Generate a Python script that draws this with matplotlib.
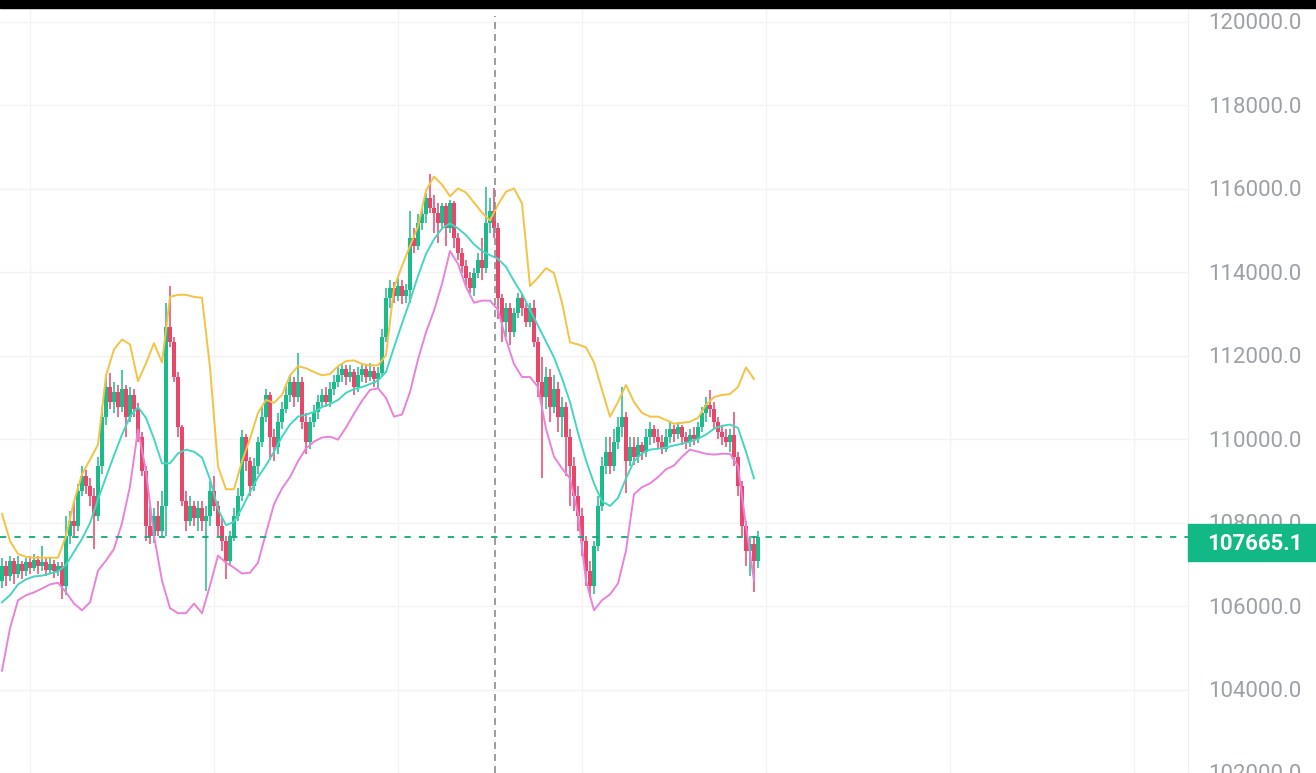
import numpy as np
import matplotlib.pyplot as plt
from matplotlib.patches import Rectangle

plt.rcParams['font.family'] = ['Roboto', 'DejaVu Sans']

# OHLC candles (oldest -> newest)
opens = [
    106610, 106970, 106730, 107090, 106780, 107020, 106850, 107060, 106920, 107110,
    106970, 107060, 106870, 107020, 106830, 106970, 106490, 107680, 108040, 107920,
    108750, 109110, 108870, 108630, 108160, 109350, 110540, 111250, 110890, 111130,
    110770, 111200, 110540, 111060, 110730, 110060, 109230, 107920, 107680, 108160,
    107800, 108400, 112680, 112320, 111490, 110300, 108510, 108040, 108400, 108110,
    108350, 108040, 108160, 108750, 108400, 107920, 107560, 107090, 107680, 108160,
    108630, 110060, 109470, 108870, 109350, 109940, 110540, 111060, 110060, 109820,
    110420, 110730, 111060, 111370, 111010, 111370, 110420, 109940, 110420, 110650,
    110890, 111060, 110890, 111200, 111370, 111530, 111680, 111490, 111610, 111250,
    111530, 111680, 111490, 111630, 111440, 111580, 112440, 113390, 113630, 113440,
    113670, 113440, 113580, 114820, 114630, 115170, 115390, 115770, 115530, 115410,
    115170, 115580, 115050, 115650, 114820, 114460, 114150, 113870, 113630, 113980,
    114290, 114100, 115170, 115480, 115050, 113390, 112800, 113150, 112560, 113030,
    113390, 113150, 112800, 113150, 112320, 111370, 111010, 111490, 110770, 111200,
    110540, 110770, 110060, 109350, 108630, 108160, 107560, 106850, 106490, 107440,
    108400, 109350, 109700, 109350, 109940, 110300, 110540, 109470, 109820, 109580,
    109870, 109700, 110060, 110250, 110060, 109940, 109770, 110060, 110250, 110130,
    110300, 110060, 109940, 110110, 110010, 110300, 110630, 110820, 110730, 110420,
    110180, 110060, 109940, 110110, 109580, 108870, 107920, 107330, 107490, 107090,
]
highs = [
    107160, 107090, 107210, 107160, 107210, 107090, 107160, 107210, 107250, 107210,
    107440, 107160, 107160, 107110, 107060, 107060, 108160, 108280, 108510, 108920,
    109350, 109250, 109060, 108820, 109580, 110770, 111490, 111580, 111370, 111300,
    111650, 111300, 111250, 111200, 110870, 110180, 109350, 108400, 108350, 108510,
    108750, 113270, 113680, 112440, 111610, 110350, 108750, 108630, 108510, 108510,
    108510, 108400, 108990, 109110, 108510, 108110, 107680, 107800, 108350, 108820,
    110230, 110130, 109580, 109540, 110060, 110770, 111200, 111130, 110250, 110630,
    110890, 111300, 111530, 111490, 112060, 111490, 110630, 110540, 110820, 111060,
    111200, 111250, 111370, 111530, 111720, 111820, 111770, 111770, 111680, 111720,
    111820, 111770, 111820, 111720, 111720, 112630, 113630, 113820, 113770, 113870,
    113820, 113720, 115480, 115050, 115390, 115530, 115890, 116360, 115860, 115650,
    115670, 115650, 115720, 115700, 114940, 114580, 114290, 114010, 114100, 114460,
    114820, 116050, 115770, 116010, 115170, 113480, 113270, 113270, 113150, 113510,
    113480, 113270, 113270, 113340, 112440, 111960, 111720, 111680, 111530, 111370,
    111010, 110890, 110250, 109580, 108870, 108350, 107680, 107090, 107560, 108630,
    109580, 110060, 110060, 110250, 110540, 111250, 110650, 110060, 110060, 110060,
    109940, 110250, 110420, 110350, 110250, 110110, 110250, 110420, 110350, 110420,
    110350, 110180, 110250, 110300, 110420, 110770, 111010, 111180, 110890, 110540,
    110350, 110250, 110250, 110650, 109700, 108990, 108040, 107680, 107680, 107800,
]
lows = [
    106440, 106490, 106610, 106540, 106680, 106640, 106730, 106780, 106830, 106780,
    106850, 106730, 106780, 106680, 106730, 106180, 106260, 107490, 107680, 107800,
    108630, 108680, 108400, 107370, 108040, 109160, 110350, 110730, 110630, 110540,
    110650, 110060, 110420, 110540, 109940, 109110, 107560, 107490, 107510, 107680,
    107680, 107680, 112200, 111370, 110060, 108400, 107800, 107920, 107920, 107800,
    107800, 106370, 107920, 108280, 107680, 107330, 106660, 106970, 107560, 108040,
    108510, 109230, 108630, 108750, 109160, 109820, 110420, 109510, 109470, 109650,
    110250, 110630, 110890, 110770, 110890, 110250, 109650, 109770, 110300, 110490,
    110770, 110770, 110770, 111060, 111250, 111370, 111300, 111370, 111060, 111130,
    111370, 111340, 111390, 111250, 111200, 111490, 112320, 113150, 113270, 113320,
    113250, 113270, 113270, 114460, 114530, 115010, 115170, 115410, 114940, 114700,
    115050, 114630, 114940, 114580, 114290, 113980, 113680, 113510, 113440, 113870,
    113820, 113980, 114940, 114820, 112870, 112320, 112440, 112250, 112440, 112910,
    112960, 112680, 112680, 112200, 111010, 109060, 110730, 110420, 110630, 110180,
    110060, 109110, 108400, 108280, 107800, 107210, 106490, 106210, 106300, 107330,
    108280, 109160, 109160, 109230, 109770, 110060, 108700, 109350, 109390, 109440,
    109510, 109580, 109870, 109920, 109770, 109650, 109700, 109920, 109940, 110010,
    109870, 109770, 109820, 109870, 109920, 110180, 110420, 110540, 110250, 110010,
    109870, 109820, 109700, 109350, 108630, 107680, 106970, 106730, 106330, 106920,
]
closes = [
    106970, 106730, 107090, 106780, 107020, 106850, 107060, 106920, 107110, 106970,
    107060, 106870, 107020, 106830, 106970, 106490, 107680, 108040, 107920, 108750,
    109110, 108870, 108630, 108160, 109350, 110540, 111250, 110890, 111130, 110770,
    111200, 110540, 111060, 110730, 110060, 109230, 107920, 107680, 108160, 107800,
    108400, 112680, 112320, 111490, 110300, 108510, 108040, 108400, 108110, 108350,
    108040, 108160, 108750, 108400, 107920, 107560, 107090, 107680, 108160, 108630,
    110060, 109470, 108870, 109350, 109940, 110540, 111060, 110060, 109820, 110420,
    110730, 111060, 111370, 111010, 111370, 110420, 109940, 110420, 110650, 110890,
    111060, 110890, 111200, 111370, 111530, 111680, 111490, 111610, 111250, 111530,
    111680, 111490, 111630, 111440, 111580, 112440, 113390, 113630, 113440, 113670,
    113440, 113580, 114820, 114630, 115170, 115390, 115770, 115530, 115410, 115170,
    115580, 115050, 115650, 114820, 114460, 114150, 113870, 113630, 113980, 114290,
    114100, 115170, 115480, 115050, 113390, 112800, 113150, 112560, 113030, 113390,
    113150, 112800, 113150, 112320, 111370, 111010, 111490, 110770, 111200, 110540,
    110770, 110060, 109350, 108630, 108160, 107560, 106850, 106490, 107440, 108400,
    109350, 109700, 109350, 109940, 110300, 110540, 109470, 109820, 109580, 109870,
    109700, 110060, 110250, 110060, 109940, 109770, 110060, 110250, 110130, 110300,
    110060, 109940, 110110, 110010, 110300, 110630, 110820, 110730, 110420, 110180,
    110060, 109940, 110110, 109580, 108870, 107920, 107330, 107490, 107090, 107665.1,
]

# Bollinger bands, read every 2nd candle
band_step = 2
upper_band = [
    108210, 107560, 107250, 107180, 107160, 107160, 107160, 107160, 107680, 108510,
    109160, 109510, 109870, 111530, 112150, 112390, 112270, 111390, 111820, 112300,
    111840, 113410, 113460, 113460, 113410, 113390, 111720, 109350, 108800, 108800,
    109470, 110010, 110630, 110940, 110870, 111060, 111530, 111750, 111700, 111610,
    111530, 111560, 111750, 111870, 111890, 111800, 111770, 111770, 112010, 113630,
    114150, 114630, 115100, 115960, 116290, 116100, 115820, 116010, 115910, 115670,
    115430, 115240, 115620, 115930, 116010, 115650, 113670, 113870, 114100, 113980,
    113270, 112320, 112270, 112200, 111840, 111180, 110540, 110890, 111300, 110890,
    110630, 110540, 110540, 110460, 110370, 110390, 110420, 110510, 110820, 111010,
    111060, 111080, 111250, 111720, 111440,
]
middle_band = [
    106090, 106260, 106520, 106640, 106710, 106730, 106780, 106830, 106990, 107300,
    107610, 107990, 108560, 109090, 109610, 110110, 110540, 110770, 110510, 110010,
    109420, 109420, 109660, 109750, 109700, 109560, 109040, 108320, 107940, 108020,
    108350, 108730, 109090, 109370, 109700, 110060, 110350, 110540, 110590, 110650,
    110770, 110840, 110940, 111110, 111200, 111250, 111320, 111410, 111610, 112200,
    112770, 113320, 113910, 114440, 114790, 115050, 115170, 115050, 114890, 114670,
    114510, 114410, 114320, 114130, 113790, 113480, 113100, 112720, 112340, 111960,
    111460, 110890, 110150, 109490, 108940, 108510, 108400, 108590, 109060, 109470,
    109660, 109750, 109770, 109800, 109850, 109890, 109940, 110010, 110110, 110250,
    110320, 110350, 110270, 109700, 109060,
]
lower_band = [
    104450, 105470, 106140, 106260, 106330, 106420, 106520, 106560, 106330, 106060,
    105900, 106090, 106850, 107090, 107370, 107990, 108870, 110230, 109230, 107680,
    106610, 105950, 105830, 105830, 106060, 105830, 106490, 107210, 107040, 106920,
    106780, 106800, 107040, 107750, 108440, 108820, 109090, 109470, 109780, 109940,
    110040, 110060, 109990, 110280, 110610, 110920, 111180, 111220, 110990, 110540,
    110590, 111130, 111910, 112560, 113080, 113720, 114510, 114200, 113650, 113270,
    113320, 113320, 113100, 112390, 111800, 111490, 111490, 111250, 110250, 109580,
    109300, 109060, 108210, 106610, 105900, 106140, 106280, 106540, 107330, 108680,
    108850, 108940, 109090, 109280, 109370, 109580, 109750, 109700, 109650, 109630,
    109650, 109650, 109350, 107920, 106610,
]

price_ticks = list(range(102000, 122000, 2000))
cursor_candle = 123.2

UP, DOWN = '#1dba8c', '#e8476c'
W, H = 1316, 773

fig = plt.figure(figsize=(W / 100, H / 100), dpi=100)
ax = fig.add_axes([0, 0, 1188 / W, 765 / H])

o = np.array(opens, dtype=float)
c = np.array(closes, dtype=float)
idx = np.arange(len(c))
colors = np.where(c >= o, UP, DOWN)

# candles
ax.vlines(idx, lows, highs, colors=colors, linewidth=1.1, zorder=2)
ax.bar(idx, np.maximum(np.abs(c - o), 25), bottom=np.minimum(o, c), width=0.8,
       color=colors, linewidth=0, zorder=2)

# bands
bx = idx[::band_step]
ax.plot(bx, upper_band, color='#f4c245', lw=1.4, zorder=3)
ax.plot(bx, middle_band, color='#45d6c2', lw=1.4, zorder=3)
ax.plot(bx, lower_band, color='#ea82d8', lw=1.4, zorder=3)

# last price line + crosshair
ax.axhline(c[-1], color='#15a77c', lw=1.3, ls=(0, (3.5, 4.5)), zorder=4)
ax.axvline(cursor_candle, ymax=0.99, color='#8c8c8c', lw=1.2, ls=(0, (4.2, 3)), zorder=4)

ax.set_xlim(-0.5, -0.5 + 1188 / 4)
ax.set_ylim(102145, 120333)

ax.set_yticks(price_ticks)
ax.set_xticks(np.arange(7, 297, 46))
ax.tick_params(length=0, labelleft=False, labelbottom=False)
ax.grid(True, color='#f3f3f3', lw=1)
for name, sp in ax.spines.items():
    sp.set_visible(name == 'right')
ax.spines['right'].set_color('#efefef')

for t in price_ticks:
    ax.annotate(f"{t:.1f}", xy=(1, t), xycoords=('axes fraction', 'data'),
                xytext=(20, -2), textcoords='offset pixels', va='center', ha='left',
                fontsize=16, color='#9ca1a6', annotation_clip=False)

# top bar and last price tag
fig.patches.append(Rectangle((0, 1 - 8 / H), 1, 8 / H, transform=fig.transFigure,
                             color='black', zorder=5))
fig.patches.append(Rectangle((1188 / W, 1 - 561 / H), 128 / W, 37 / H,
                             transform=fig.transFigure, color='#12b886', zorder=5))
fig.text(1207 / W, 1 - 544 / H, f"{c[-1]:.1f}", color='white', fontsize=16,
         fontweight='bold', va='center', ha='left', zorder=6)

fig.savefig('out.png', dpi=100)
